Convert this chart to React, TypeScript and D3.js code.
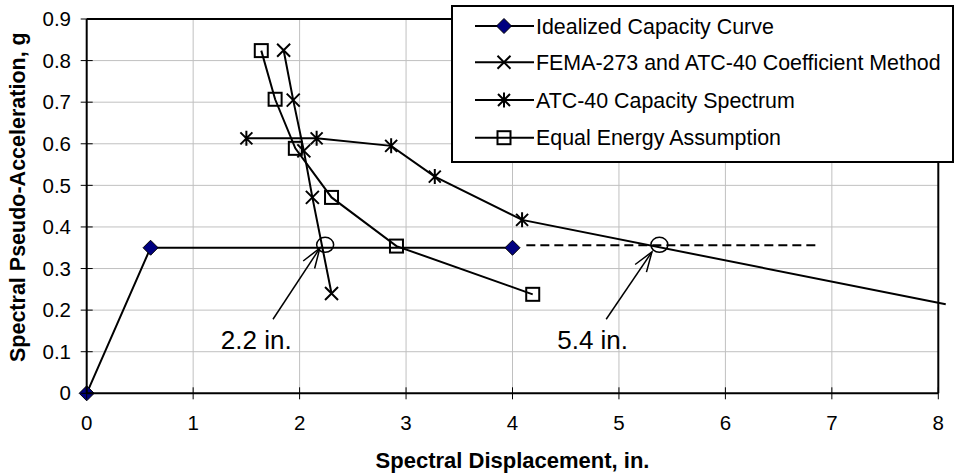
import React from "react";
import * as d3 from "d3";

// axis ticks
const xTicks = [0, 1, 2, 3, 4, 5, 6, 7, 8];
const yTicks = [0, 0.1, 0.2, 0.3, 0.4, 0.5, 0.6, 0.7, 0.8, 0.9];

const seriesNames = [
  "Idealized Capacity Curve",
  "FEMA-273 and ATC-40 Coefficient Method",
  "ATC-40 Capacity Spectrum",
  "Equal Energy Assumption",
];
const seriesMarkers = ["diamond", "x", "star", "square"];

// series values (Sd in., Sa g)
const idealizedX = [0, 0.6, 4.0];
const idealizedY = [0, 0.35, 0.35];
const femaX = [1.85, 1.94, 2.04, 2.12, 2.3];
const femaY = [0.825, 0.705, 0.583, 0.471, 0.24];
const atcX = [1.5, 2.16, 2.86, 3.27, 4.09, 8.07];
const atcY = [0.613, 0.613, 0.595, 0.521, 0.417, 0.214];
const energyX = [1.64, 1.77, 1.96, 2.3, 2.91, 4.19];
const energyY = [0.824, 0.707, 0.589, 0.471, 0.354, 0.238];

// extension of the capacity plateau (dashed)
const extensionX = [4.13, 6.87];
const extensionY = [0.356, 0.356];

// performance points and their notes
const noteLabels = ["2.2 in.", "5.4 in."];
const pointX = [2.24, 5.38];
const pointY = [0.357, 0.357];
const noteX = [1.26, 4.42];
const noteY = [0.106, 0.106];
const arrowFromX = [1.75, 4.88];
const arrowFromY = [0.178, 0.178];
const arrowToX = [2.19, 5.31];
const arrowToY = [0.349, 0.34];

const WIDTH = 954;
const HEIGHT = 473;
const FONT = "'Liberation Sans', Arial, Helvetica, sans-serif";

function Marker(props: { type: string; x: number; y: number }) {
  const { type, x, y } = props;
  if (type === "diamond") {
    return (
      <path
        transform={`translate(${x},${y})`}
        d="M0,-7.5L7.5,0L0,7.5L-7.5,0Z"
        fill="#000080"
        stroke="#000"
        strokeWidth={1}
      />
    );
  }
  if (type === "x") {
    return (
      <path
        transform={`translate(${x},${y})`}
        d="M-6.5,-6.5L6.5,6.5M-6.5,6.5L6.5,-6.5"
        stroke="#000"
        strokeWidth={2}
        fill="none"
      />
    );
  }
  if (type === "star") {
    return (
      <path
        transform={`translate(${x},${y})`}
        d="M-6,-6L6,6M-6,6L6,-6M0,-7.5L0,7.5"
        stroke="#000"
        strokeWidth={2}
        fill="none"
      />
    );
  }
  return (
    <rect
      x={x - 6.5}
      y={y - 6.5}
      width={13}
      height={13}
      fill="none"
      stroke="#000"
      strokeWidth={2}
    />
  );
}

export default function App() {
  const xScale = d3.scaleLinear().domain([0, 8]).range([86.7, 938.3]);
  const yScale = d3.scaleLinear().domain([0, 0.9]).range([393.3, 19]);

  const lineFunc = d3
    .line<[number, number]>()
    .x((d) => xScale(d[0]))
    .y((d) => yScale(d[1]));

  const series = [
    { xs: idealizedX, ys: idealizedY },
    { xs: femaX, ys: femaY },
    { xs: atcX, ys: atcY },
    { xs: energyX, ys: energyY },
  ];

  const x0 = xScale(0);
  const x1 = xScale(8);
  const yBottom = yScale(0);
  const yTop = yScale(0.9);

  // legend
  const legendX = 452;
  const legendY = 6;
  const legendRows = [26, 62.3, 100, 137.7];

  return (
    <svg
      width={WIDTH}
      height={HEIGHT}
      style={{ position: "absolute", left: 0, top: 0, display: "block", background: "#fff" }}
      fontFamily={FONT}
    >
      <rect width={WIDTH} height={HEIGHT} fill="#fff" />

      {/* gridlines */}
      {xTicks.slice(1, -1).map((t) => (
        <line key={"gx" + t} x1={xScale(t)} x2={xScale(t)} y1={yTop} y2={yBottom} stroke="#c0c0c0" strokeWidth={1} />
      ))}
      {yTicks.slice(1, -1).map((t) => (
        <line key={"gy" + t} x1={x0} x2={x1} y1={yScale(t)} y2={yScale(t)} stroke="#c0c0c0" strokeWidth={1} />
      ))}

      {/* plot area border */}
      <line x1={x0} x2={x1} y1={yTop} y2={yTop} stroke="#000" strokeWidth={2} />
      <line x1={x1} x2={x1} y1={yTop} y2={yBottom} stroke="#000" strokeWidth={2} />

      {/* dashed extension */}
      <path
        d={lineFunc(extensionX.map((v, i) => [v, extensionY[i]]) as [number, number][]) || ""}
        stroke="#000"
        strokeWidth={2}
        strokeDasharray="9,5"
        fill="none"
      />

      {/* series lines */}
      {series.map((s, si) => (
        <path
          key={"s" + si}
          d={lineFunc(s.xs.map((v, i) => [v, s.ys[i]]) as [number, number][]) || ""}
          stroke="#000"
          strokeWidth={2}
          fill="none"
        />
      ))}

      {/* markers */}
      {series.map((s, si) =>
        s.xs.map((v, i) =>
          v <= 8 ? (
            <Marker key={"m" + si + "-" + i} type={seriesMarkers[si]} x={xScale(v)} y={yScale(s.ys[i])} />
          ) : null
        )
      )}

      {/* performance points, arrows and notes */}
      {noteLabels.map((label, i) => {
        const fx = xScale(arrowFromX[i]);
        const fy = yScale(arrowFromY[i]);
        const tx = xScale(arrowToX[i]);
        const ty = yScale(arrowToY[i]);
        const ang = Math.atan2(fy - ty, fx - tx);
        const len = 21;
        const spread = (19 * Math.PI) / 180;
        const b1x = tx + len * Math.cos(ang + spread);
        const b1y = ty + len * Math.sin(ang + spread);
        const b2x = tx + len * Math.cos(ang - spread);
        const b2y = ty + len * Math.sin(ang - spread);
        return (
          <g key={"n" + i}>
            <ellipse
              cx={xScale(pointX[i])}
              cy={yScale(pointY[i])}
              rx={8.5}
              ry={7.5}
              fill="none"
              stroke="#000"
              strokeWidth={1.5}
            />
            <line x1={fx} y1={fy} x2={tx} y2={ty} stroke="#000" strokeWidth={1.5} />
            <path
              d={`M${b1x},${b1y}L${tx},${ty}L${b2x},${b2y}`}
              stroke="#000"
              strokeWidth={1.5}
              fill="none"
            />
            <text x={xScale(noteX[i])} y={yScale(noteY[i])} fontSize={26} fill="#000">
              {label}
            </text>
          </g>
        );
      })}

      {/* y axis */}
      <line x1={x0} x2={x0} y1={yTop} y2={yBottom} stroke="#000" strokeWidth={2} />
      {yTicks.map((t) => (
        <g key={"yt" + t}>
          <line x1={x0 - 6} x2={x0 + 6} y1={yScale(t)} y2={yScale(t)} stroke="#000" strokeWidth={1} />
          <text
            x={71}
            y={yScale(t)}
            dy="0.35em"
            textAnchor="end"
            fontSize={20.5}
            fill="#000"
          >
            {t === 0 ? "0" : d3.format(".1f")(t)}
          </text>
        </g>
      ))}

      {/* x axis */}
      <line x1={x0} x2={x1} y1={yBottom} y2={yBottom} stroke="#000" strokeWidth={2} />
      {xTicks.map((t) => (
        <g key={"xt" + t}>
          <line x1={xScale(t)} x2={xScale(t)} y1={yBottom - 6} y2={yBottom + 6} stroke="#000" strokeWidth={1} />
          <text x={xScale(t)} y={430} textAnchor="middle" fontSize={20.5} fill="#000">
            {t}
          </text>
        </g>
      ))}

      {/* axis titles */}
      <text
        x={(x0 + x1) / 2}
        y={468}
        textAnchor="middle"
        fontSize={22}
        fontWeight="bold"
        fill="#000"
      >
        Spectral Displacement, in.
      </text>
      <text
        transform={`translate(25,${(yTop + yBottom) / 2 - 9}) rotate(-90)`}
        textAnchor="middle"
        fontSize={21.5}
        fontWeight="bold"
        fill="#000"
      >
        Spectral Pseudo-Acceleration, g
      </text>

      {/* legend */}
      <g className="legend">
        <rect x={legendX} y={legendY} width={501} height={156} fill="#fff" stroke="#000" strokeWidth={2} />
        {seriesNames.map((name, i) => (
          <g key={"lg" + i}>
            <line x1={475} x2={534} y1={legendRows[i]} y2={legendRows[i]} stroke="#000" strokeWidth={2} />
            <Marker type={seriesMarkers[i]} x={504} y={legendRows[i]} />
            <text x={536} y={legendRows[i]} dy="0.36em" fontSize={21.4} fill="#000">
              {name}
            </text>
          </g>
        ))}
      </g>
    </svg>
  );
}
